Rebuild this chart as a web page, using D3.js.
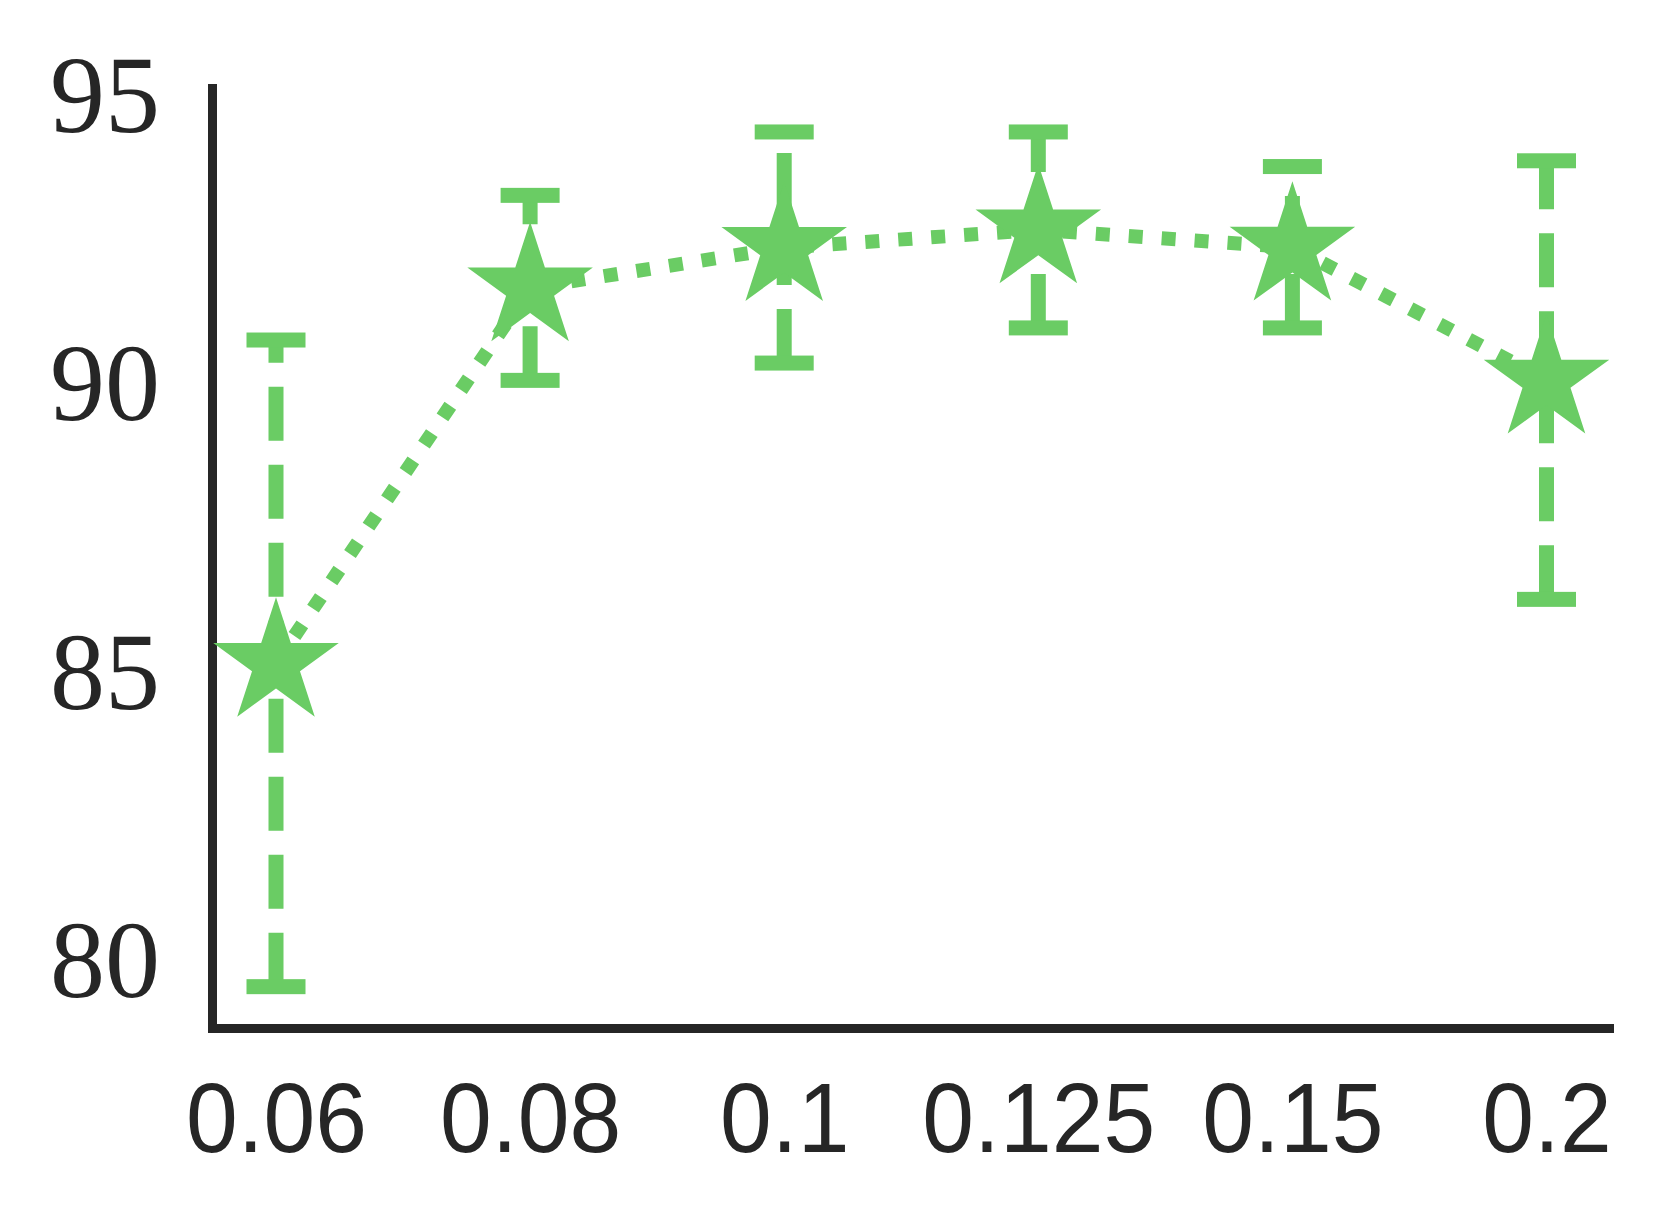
<!DOCTYPE html>
<html>
<head>
<meta charset="utf-8">
<script src="https://cdn.jsdelivr.net/npm/d3@7"></script>
<style>
  html, body { margin: 0; padding: 0; background: #ffffff; }
  svg { display: block; }
</style>
</head>
<body>
<script>
// ---- data ----
const categories = ["0.06", "0.08", "0.1", "0.125", "0.15", "0.2"];
const meanValues = [85.13, 91.645, 92.345, 92.65, 92.35, 90.045];
const errValues  = [5.61, 1.605, 2.005, 1.70, 1.40, 3.805];
const yTickValues = [80, 85, 90, 95];

// ---- layout ----
const W = 1664, H = 1225;
const green = "#6acc64";
const ink = "#262626";

const svg = d3.select("body").append("svg")
  .attr("width", W).attr("height", H)
  .style("background", "#ffffff");

const x = d3.scalePoint().domain(categories).range([276, 1546.5]).padding(0);
const y = d3.scaleLinear().domain([80, 95]).range([959, 94.5]);

// spines
const spineLeftX = 212.5, spineBottomY = 1028.5;
svg.append("line")
  .attr("x1", spineLeftX).attr("x2", spineLeftX)
  .attr("y1", 84).attr("y2", spineBottomY + 4.5)
  .attr("stroke", ink).attr("stroke-width", 9);
svg.append("line")
  .attr("x1", spineLeftX - 4.5).attr("x2", 1614)
  .attr("y1", spineBottomY).attr("y2", spineBottomY)
  .attr("stroke", ink).attr("stroke-width", 9);

// y axis tick labels
const yAxis = d3.axisLeft(y).tickValues(yTickValues).tickSize(0).tickPadding(0)
  .tickFormat(d3.format("d"));
const gy = svg.append("g").attr("transform", "translate(160,0)").call(yAxis);
gy.select(".domain").remove();
gy.selectAll("text")
  .attr("fill", ink)
  .style("font-family", "'Liberation Serif', 'DejaVu Serif', serif")
  .style("font-size", "110px")
  .attr("x", 0)
  .attr("dy", "0.338em")
  .attr("text-anchor", "end");

// x axis tick labels
const xAxis = d3.axisBottom(x).tickSize(0).tickPadding(0);
const gx = svg.append("g").attr("transform", "translate(0,1152)").call(xAxis);
gx.select(".domain").remove();
gx.selectAll("text")
  .attr("fill", ink)
  .style("font-family", "'Liberation Sans', Arial, sans-serif")
  .style("font-size", "98px")
  .attr("y", 0)
  .attr("dy", 0)
  .attr("text-anchor", "middle")
  .attr("transform", "scale(0.95,1)");

// data rows
const rows = categories.map((c, i) => ({ c, m: meanValues[i], e: errValues[i] }));

// dotted connecting line
const line = d3.line().x(d => x(d.c)).y(d => y(d.m));
svg.append("path")
  .datum(rows)
  .attr("d", line)
  .attr("fill", "none")
  .attr("stroke", green)
  .attr("stroke-width", 14)
  .attr("stroke-dasharray", "14,19")
  .attr("stroke-linecap", "butt");

// error bars (dashed, drawn from bottom to top)
const eb = svg.append("g");
eb.selectAll("path.err")
  .data(rows).join("path")
  .attr("class", "err")
  .attr("d", d => `M${x(d.c)},${y(d.m - d.e)}L${x(d.c)},${y(d.m + d.e)}`)
  .attr("stroke", green)
  .attr("stroke-width", 15)
  .attr("stroke-dasharray", "54,24")
  .attr("fill", "none");

const capW = 59, capT = 15;
eb.selectAll("rect.capTop")
  .data(rows).join("rect")
  .attr("class", "capTop")
  .attr("x", d => x(d.c) - capW / 2)
  .attr("y", d => y(d.m + d.e) - capT / 2)
  .attr("width", capW).attr("height", capT)
  .attr("fill", green);
eb.selectAll("rect.capBot")
  .data(rows).join("rect")
  .attr("class", "capBot")
  .attr("x", d => x(d.c) - capW / 2)
  .attr("y", d => y(d.m - d.e) - capT / 2)
  .attr("width", capW).attr("height", capT)
  .attr("fill", green);

// star markers
const R = 66, r = R * 0.381966;
const starPts = d3.range(10).map(i => {
  const a = (-90 + i * 36) * Math.PI / 180;
  const rr = i % 2 === 0 ? R : r;
  return [rr * Math.cos(a), rr * Math.sin(a)];
});
const starPath = "M" + starPts.map(p => p.join(",")).join("L") + "Z";
svg.append("g").selectAll("path.star")
  .data(rows).join("path")
  .attr("class", "star")
  .attr("d", starPath)
  .attr("transform", d => `translate(${x(d.c)},${y(d.m)})`)
  .attr("fill", green);
</script>
</body>
</html>
